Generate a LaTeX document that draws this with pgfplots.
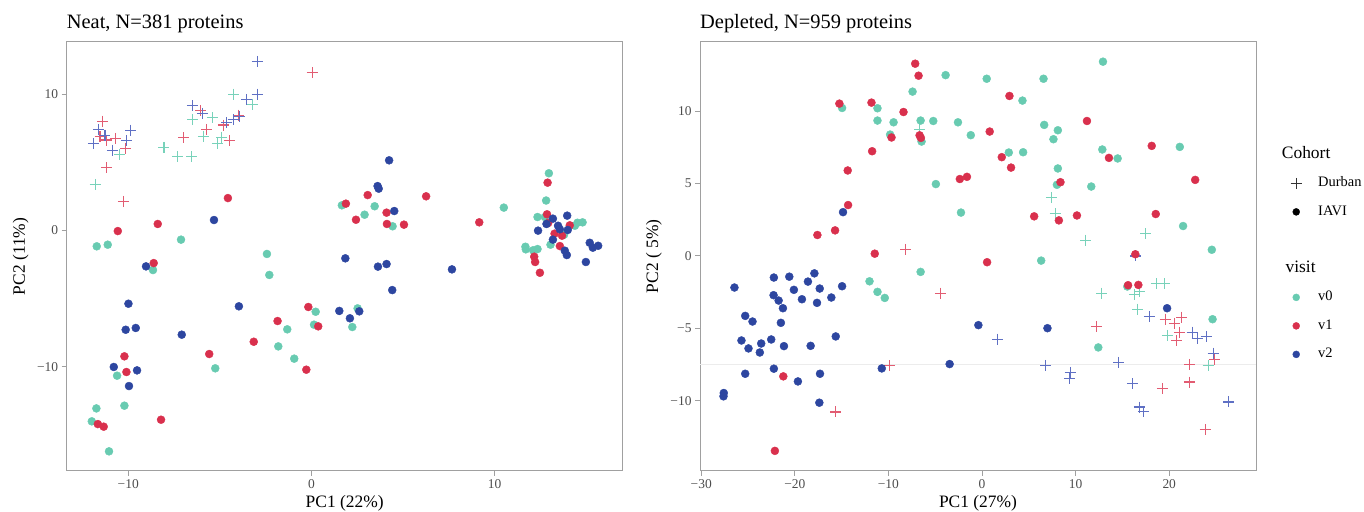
\documentclass[border=0pt]{standalone}
\usepackage{fontspec}
\setmainfont{Liberation Serif}
\usepackage{pgfplots}
\pgfplotsset{compat=1.18}

\definecolor{vzero}{RGB}{104,203,177}
\definecolor{vone}{RGB}{217,48,77}
\definecolor{vtwo}{RGB}{45,70,160}
\definecolor{axgray}{RGB}{160,160,160}
\definecolor{tickgray}{RGB}{77,77,77}
% lighter tones used for the Durban crosses
\definecolor{czero}{RGB}{120,210,186}
\definecolor{cone}{RGB}{226,92,114}
\definecolor{ctwo}{RGB}{95,112,196}

\pgfplotsset{
  pcastyle/.style={
    scale only axis,
    width=556bp, height=428.7bp,
    axis line style={line width=1bp, draw=axgray},
    tick style={line width=1bp, draw=axgray},
    tick align=outside,
    major tick length=5bp,
    xtick pos=bottom, ytick pos=left,
    ticklabel style={font=\fontsize{13.5}{16}\selectfont, text=tickgray},
    label style={font=\fontsize{17.5}{20}\selectfont},
    xlabel style={at={(axis description cs:0.5,-0.0753)}, anchor=center},
    ylabel style={at={(axis description cs:-0.0827,0.5)}, anchor=center},
    title style={at={(0,1)}, anchor=base west, yshift=7.5bp, inner sep=0pt,
                 font=\fontsize{20.5}{24}\selectfont},
    legend image code/.code={
      \path[draw=none, fill=none] (0bp,-3bp) rectangle (30.5bp,3bp);
      \draw[##1] plot coordinates {(8.5bp,0bp)};
    },
  },
  dur/.style={only marks, mark=+, mark size=5.5bp, forget plot,
              mark options={line width=1.1bp}},
  iavi/.style={only marks, mark=*, mark size=4bp, forget plot},
}

\begin{document}
\begin{tikzpicture}
\path[use as bounding box] (0,0) rectangle (1364bp,512bp);

% ---- Neat ----
\begin{axis}[pcastyle,
  at={(66.7bp,41.3bp)}, anchor=south west,
  xmin=-13.36, xmax=16.99, ymin=-17.62, ymax=13.83,
  xtick={-10,0,10}, xticklabels={−10,0,10},
  ytick={-10,0,10}, yticklabels={−10,0,10},
  title={Neat, N=381 proteins},
  xlabel={PC1 (22\%)}, ylabel={PC2 (11\%)},
]
% Durban
\addplot[dur, czero] coordinates {(-4.25,10.01)(-3.23,9.26)(-6.48,8.16)(-5.41,8.28)(-5.90,6.93)(-4.9,6.84)(-5.14,6.4)(-8.05,6.1)(-7.32,5.41)(-6.54,5.41)(-10.48,5.59)(-11.81,3.39)};
\addplot[dur, cone] coordinates {(0.04,11.56)(-6.05,8.79)(-3.99,8.47)(-4.81,7.74)(-5.72,7.42)(-11.39,8.03)(-11.54,6.88)(-10.72,6.76)(-11.21,6.64)(-6.96,6.81)(-4.45,6.59)(-10.14,6.03)(-11.17,4.59)(-10.27,2.14)};
\addplot[dur, ctwo] coordinates {(-2.96,12.41)(-2.96,10.0)(-3.54,9.62)(-6.50,9.16)(-5.96,8.6)(-3.94,8.38)(-4.27,8.16)(-4.63,7.91)(-11.63,7.42)(-9.86,7.37)(-11.27,7.0)(-10.08,6.59)(-11.9,6.4)(-10.87,5.9)};
% IAVI
\addplot[iavi, vzero] coordinates {(-7.12,-0.67)(-11.72,-1.16)(-11.12,-1.04)(-2.43,-1.72)(-8.65,-2.9)(-2.3,-3.26)(0.23,-5.96)(0.14,-6.91)(-1.32,-7.25)(-1.81,-8.5)(-0.94,-9.4)(-5.25,-10.11)(-10.61,-10.65)(-10.21,-12.85)(-11.74,-13.05)(-11.99,-14.0)(-11.05,-16.2)(12.96,4.2)(12.81,2.2)(1.66,1.85)(3.45,1.78)(10.5,1.68)(2.9,1.16)(4.43,0.31)(12.34,0.99)(12.74,0.99)(14.38,0.35)(14.52,0.57)(14.8,0.6)(13.79,-0.31)(13.05,-1.04)(11.68,-1.19)(11.7,-1.38)(12.1,-1.45)(12.34,-1.36)(2.52,-5.71)(2.23,-7.08)};
\addplot[iavi, vone] coordinates {(-4.56,2.38)(-8.39,0.48)(-10.57,-0.04)(-8.61,-2.39)(-0.17,-5.61)(-1.85,-6.64)(0.37,-7.03)(-3.15,-8.16)(-0.28,-10.21)(-5.58,-9.06)(-10.21,-9.23)(-10.1,-10.38)(-11.66,-14.2)(-11.34,-14.39)(-8.21,-13.88)(12.89,3.51)(3.07,2.6)(6.26,2.51)(1.88,1.97)(4.1,1.31)(2.43,0.79)(4.12,0.48)(5.05,0.43)(9.16,0.6)(12.86,1.19)(12.92,0.55)(14.1,0.38)(13.27,-0.23)(13.68,-0.38)(13.56,-1.14)(12.16,-1.92)(12.21,-2.31)(12.47,-3.1)};
\addplot[iavi, vtwo] coordinates {(-5.32,0.77)(-9.03,-2.63)(-9.99,-5.37)(-10.14,-7.28)(-9.59,-7.15)(-7.08,-7.64)(-3.96,-5.56)(1.52,-5.9)(-10.79,-10.01)(-9.52,-10.26)(-9.96,-11.41)(4.24,5.15)(3.61,3.26)(3.67,3.07)(4.52,1.43)(12.83,0.48)(13.18,0.87)(13.96,1.09)(13.46,0.35)(13.56,0.09)(13.99,0.04)(12.37,-0.01)(13.18,-0.67)(13.83,-1.48)(13.94,-1.8)(15.19,-0.9)(15.36,-1.26)(15.65,-1.12)(14.98,-2.31)(1.85,-2.04)(3.63,-2.65)(4.1,-2.46)(7.67,-2.85)(4.41,-4.37)(2.1,-6.44)(2.61,-5.93)};
\end{axis}

% ---- Depleted ----
\begin{axis}[pcastyle,
  at={(700bp,41.3bp)}, anchor=south west,
  xmin=-30.13, xmax=29.27, ymin=-14.84, ymax=14.79,
  xtick={-30,-20,-10,0,10,20}, xticklabels={−30,−20,−10,0,10,20},
  ytick={-10,-5,0,5,10}, yticklabels={−10,−5,0,5,10},
  title={Depleted, N=959 proteins},
  xlabel={PC1 (27\%)}, ylabel={PC2 ( 5\%)},
  legend cell align=left,
  legend style={draw=none, fill=none, at={(1.0567,0.7523)}, anchor=north west,
    inner sep=0pt, row sep=15.5bp,
    nodes={inner sep=0pt, text height=10bp, text depth=3bp,
           font=\fontsize{14.5}{17}\selectfont}},
]
\addplot[forget plot, draw={rgb,255:red,236;green,236;blue,236}, line width=0.8bp] coordinates {(-30.13,-7.46)(29.27,-7.46)};
% Durban
\addplot[dur, czero] coordinates {(-6.64,8.74)(7.42,4.05)(7.82,2.92)(11.06,1.1)(17.49,1.54)(18.63,-1.91)(19.45,-1.91)(12.81,-2.57)(16.81,-2.46)(16.27,-2.69)(16.63,-3.68)(19.81,-5.49)(24.16,-7.54)};
\addplot[dur, cone] coordinates {(-8.14,0.46)(-4.46,-2.57)(-9.88,-7.59)(-15.63,-10.78)(19.56,-4.37)(20.56,-4.64)(21.34,-4.23)(12.21,-4.87)(21.09,-5.26)(20.77,-5.84)(24.81,-7.13)(22.2,-7.49)(22.16,-8.71)(19.27,-9.17)(23.84,-12.02)};
\addplot[dur, ctwo] coordinates {(16.38,0.0)(17.88,-4.18)(1.68,-5.75)(22.45,-5.26)(22.98,-5.68)(23.95,-5.56)(24.7,-6.71)(14.6,-7.36)(6.82,-7.56)(9.42,-8.05)(9.39,-8.46)(16.06,-8.83)(16.81,-10.44)(17.24,-10.76)(26.37,-10.09)};
% IAVI
\addplot[iavi, vzero] coordinates {(-3.89,12.5)(-7.42,11.36)(-14.95,10.23)(-11.17,10.21)(-11.17,9.36)(-9.45,9.24)(-6.56,9.36)(-5.21,9.33)(-2.57,9.24)(-9.82,8.39)(-6.46,7.91)(-1.2,8.35)(-4.93,4.97)(-2.25,3.0)(-6.56,-1.1)(-12.02,-1.75)(-11.17,-2.48)(-10.39,-2.9)(12.92,13.43)(0.5,12.25)(6.57,12.25)(4.32,10.74)(6.64,9.06)(8.1,8.69)(7.63,8.07)(21.13,7.54)(12.85,7.36)(14.49,6.74)(2.86,7.15)(4.39,7.17)(8.1,6.05)(8.0,4.92)(11.67,4.8)(21.48,2.07)(24.55,0.43)(6.32,-0.32)(15.52,-2.11)(24.63,-4.37)(12.42,-6.32)};
\addplot[iavi, vone] coordinates {(-7.14,13.29)(-6.78,12.46)(-15.24,10.53)(-11.81,10.6)(-8.39,9.95)(-9.67,8.19)(-6.67,8.34)(-6.53,8.16)(-11.74,7.24)(-14.35,5.91)(-2.37,5.32)(-1.61,5.47)(-14.31,3.52)(-15.7,1.77)(-17.59,1.45)(-11.46,0.16)(-21.23,-8.32)(-22.13,-13.47)(2.93,11.06)(11.21,9.33)(0.82,8.6)(18.13,7.61)(13.56,6.78)(2.11,6.83)(3.1,6.11)(8.38,5.1)(22.77,5.26)(5.57,2.74)(8.21,2.46)(10.14,2.8)(18.56,2.9)(16.38,0.12)(0.54,-0.43)(15.6,-2.02)(16.7,-2.0)};
\addplot[iavi, vtwo] coordinates {(-14.85,3.03)(-26.45,-2.18)(-22.24,-1.49)(-20.59,-1.43)(-17.91,-1.2)(-18.6,-1.77)(-20.1,-2.34)(-17.34,-2.25)(-14.95,-2.09)(-22.27,-2.71)(-21.73,-3.08)(-19.24,-2.99)(-17.63,-3.24)(-16.1,-2.87)(-21.27,-3.61)(-25.3,-4.14)(-24.52,-4.53)(-21.49,-4.62)(-15.63,-5.56)(-25.7,-5.84)(-22.52,-5.77)(-23.59,-6.05)(-24.95,-6.39)(-21.16,-6.23)(-18.31,-6.21)(-23.74,-6.67)(-22.24,-7.79)(-25.3,-8.14)(-19.67,-8.67)(-17.31,-8.14)(-27.59,-9.47)(-27.62,-9.7)(-17.38,-10.14)(-10.71,-7.77)(-3.46,-7.47)(-0.39,-4.78)(6.99,-4.99)(19.77,-3.61)};
% legend
\addlegendimage{empty legend}
\addlegendentry{\fontsize{17.5}{20}\selectfont\hspace*{-36.3bp}Cohort}
\addlegendimage{only marks, mark=+, mark size=5.5bp, black!80, mark options={line width=0.8bp}}
\addlegendentry{Durban}
\addlegendimage{only marks, mark=*, mark size=3.5bp, black}
\addlegendentry{IAVI}
\addlegendimage{empty legend}
\addlegendentry{}
\addlegendimage{empty legend}
\addlegendentry{\fontsize{17.5}{20}\selectfont\hspace*{-36.3bp}visit}
\addlegendimage{only marks, mark=*, mark size=3.5bp, vzero}
\addlegendentry{v0}
\addlegendimage{only marks, mark=*, mark size=3.5bp, vone}
\addlegendentry{v1}
\addlegendimage{only marks, mark=*, mark size=3.5bp, vtwo}
\addlegendentry{v2}
\end{axis}
\end{tikzpicture}
\end{document}
